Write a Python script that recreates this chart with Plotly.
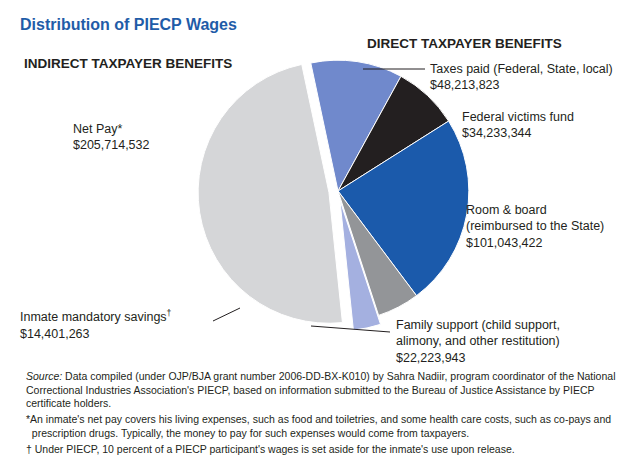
import plotly.graph_objects as go

labels = ["Taxes paid (Federal, State, local)", "Federal victims fund", "Room & board (reimbursed to the State)",
          "Family support (child support, alimony, and other restitution)", "Inmate mandatory savings", "Net Pay*"]
values = [48213823, 34233344, 101043422, 22223943, 14401263, 205714532]
colors = ["#7089cc", "#231f20", "#1b5aab", "#939598", "#a4b0e0", "#d5d6d8"]
pulls = [0, 0, 0, 0, 0.07, 0.07]

W, H = 625, 459
def px(x): return x / W
def py(y): return 1 - y / H

fig = go.Figure(go.Pie(
    labels=labels, values=values, sort=False, direction="clockwise", rotation=-12,
    marker=dict(colors=colors, line=dict(color="#ffffff", width=1)),
    pull=pulls, textinfo="none", hoverinfo="label+value", showlegend=False,
    domain=dict(x=[px(190), px(470)], y=[py(328), py(38)])))

F = "Liberation Sans"
def ann(x, y, text, size=12.5, color="#231f20", xa="left", ya="top", **kw):
    fig.add_annotation(x=px(x), y=py(y), xref="paper", yref="paper", text=text, showarrow=False,
                       xanchor=xa, yanchor=ya, align=xa if xa != "center" else "center",
                       font=dict(family=F, size=size, color=color), **kw)

ann(10, 6, "<b>Distribution of PIECP Wages</b>", 16, "#1f5ca8")
ann(14, 46, "<b>INDIRECT TAXPAYER BENEFITS</b>", 13.5)
ann(357, 26, "<b>DIRECT TAXPAYER BENEFITS</b>", 13.5)
ann(420, 52, "Taxes paid (Federal, State, local)<br>$48,213,823")
ann(452, 100, "Federal victims fund<br>$34,233,344")
ann(456, 193, "Room & board<br>(reimbursed to the State)<br>$101,043,422")
ann(386, 308, "Family support (child support,<br>alimony, and other restitution)<br>$22,223,943")
ann(63, 112, "Net Pay*<br>$205,714,532")
ann(10, 298, "Inmate mandatory savings<sup>†</sup><br>$14,401,263")

def line(pts):
    path = "M " + " L ".join(f"{px(x)},{py(y)}" for x, y in pts)
    fig.add_shape(type="path", path=path, xref="paper", yref="paper", line=dict(color="#231f20", width=1))
line([(355, 61), (417, 61)])
line([(303, 318), (382, 324)])
line([(205, 313), (232, 300)])

ann(16, 360, "<i>Source:</i> Data compiled (under OJP/BJA grant number 2006-DD-BX-K010) by Sahra Nadiir, program coordinator of the National<br>Correctional Industries Association's PIECP, based on information submitted to the Bureau of Justice Assistance by PIECP<br>certificate holders.", 10.5)
ann(16, 403, "*An inmate's net pay covers his living expenses, such as food and toiletries, and some health care costs, such as co-pays and<br>  prescription drugs. Typically, the money to pay for such expenses would come from taxpayers.", 10.5)
ann(16, 433, "† Under PIECP, 10 percent of a PIECP participant's wages is set aside for the inmate's use upon release.", 10.5)

fig.update_layout(width=W, height=H, margin=dict(l=0, r=0, t=0, b=0),
                  paper_bgcolor="white", plot_bgcolor="white")
fig.write_html("out.html")
